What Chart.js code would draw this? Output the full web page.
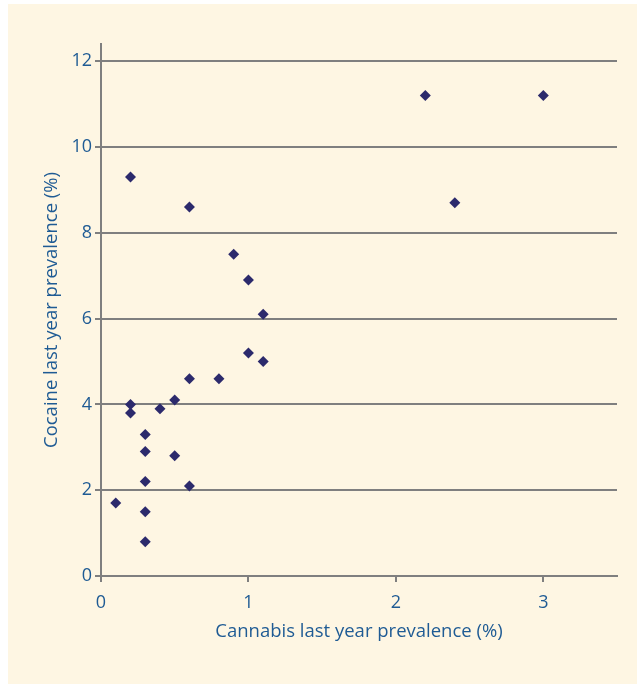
<!DOCTYPE html>
<html>
<head>
<meta charset="utf-8">
<script src="https://cdn.jsdelivr.net/npm/chart.js@4"></script>
<style>
  html, body { margin: 0; padding: 0; background: #fff; }
  #panel { position: absolute; left: 8px; top: 4px; width: 629px; height: 680px; background: #fef6e3; }
  #chart { display: block; }
</style>
</head>
<body>
<div id="panel"><canvas id="chart" width="629" height="680"></canvas></div>
<script>
// Cannabis vs cocaine last year prevalence (%)
const cannabis = [0.1, 0.3, 0.3, 0.3, 0.3, 0.3, 0.2, 0.2, 0.4, 0.5, 0.5, 0.6, 0.6, 0.8, 1.0, 1.1, 1.1, 1.0, 0.9, 0.6, 0.2, 2.2, 3.0, 2.4];
const cocaine  = [1.7, 0.8, 1.5, 2.2, 2.9, 3.3, 4.0, 3.8, 3.9, 4.1, 2.8, 2.1, 4.6, 4.6, 5.2, 5.0, 6.1, 6.9, 7.5, 8.6, 9.3, 11.2, 11.2, 8.7];
const xTicks = [0, 1, 2, 3];
const yTicks = [0, 2, 4, 6, 8, 10, 12];

const textColor = '#1f5b94';
const lineColor = '#7f7f7f';
const fontFamily = '"Open Sans", "DejaVu Sans", sans-serif';

const points = cannabis.map((x, i) => ({ x: x, y: cocaine[i] }));

new Chart(document.getElementById('chart').getContext('2d'), {
  type: 'scatter',
  data: {
    datasets: [{
      data: points,
      pointStyle: 'rectRot',
      pointRadius: 5.5,
      pointHoverRadius: 5.5,
      backgroundColor: '#2c2a6c',
      borderColor: '#2c2a6c',
      borderWidth: 0
    }]
  },
  options: {
    responsive: false,
    animation: false,
    devicePixelRatio: 1,
    layout: { padding: { left: 0, top: 40, right: 20, bottom: 0 } },
    plugins: { legend: { display: false }, tooltip: { enabled: false } },
    scales: {
      x: {
        type: 'linear',
        min: 0,
        max: 3.5,
        afterFit: s => { s.height = 108; },
        afterBuildTicks: s => { s.ticks = xTicks.map(v => ({ value: v })); },
        grid: { drawOnChartArea: false, color: lineColor, lineWidth: 2, tickLength: 6 },
        border: { color: lineColor, width: 2 },
        ticks: { color: textColor, font: { family: fontFamily, size: 18 }, padding: 10 },
        title: {
          display: true,
          text: 'Cannabis last year prevalence (%)',
          color: textColor,
          font: { family: fontFamily, size: 18.5 },
          padding: { top: 0, bottom: 41 }
        }
      },
      y: {
        type: 'linear',
        min: 0,
        max: 12.4,
        afterFit: s => { s.width = 93; },
        afterBuildTicks: s => { s.ticks = yTicks.map(v => ({ value: v })); },
        grid: { color: lineColor, lineWidth: 2, tickLength: 6 },
        border: { color: lineColor, width: 2 },
        ticks: { color: textColor, font: { family: fontFamily, size: 18 }, padding: 3 },
        title: {
          display: true,
          text: 'Cocaine last year prevalence (%)',
          color: textColor,
          font: { family: fontFamily, size: 18.5 },
          padding: { top: 33, bottom: 0 }
        }
      }
    }
  }
});
</script>
</body>
</html>
